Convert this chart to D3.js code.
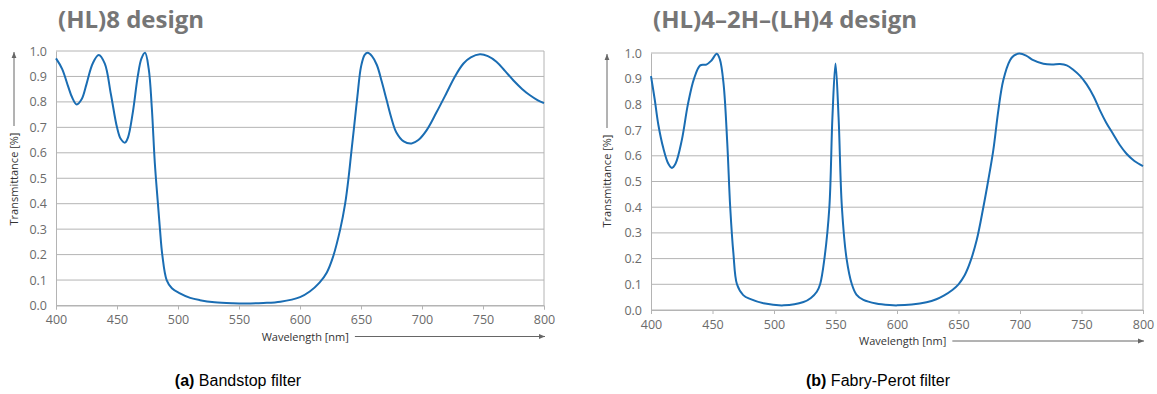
<!DOCTYPE html>
<html>
<head>
<meta charset="utf-8">
<script src="https://cdn.jsdelivr.net/npm/d3@7"></script>
<style>
  body { margin: 0; background: #fff; }
  svg { display: block; }
  .tick text { font-family: "Open Sans", sans-serif; font-size: 12.5px; fill: #6b6b6b; }
</style>
</head>
<body>
<svg width="1157" height="394"></svg>
<script>
// wavelengths [nm] and transmittance
const bandstopWl = [400, 405, 410, 413, 417, 421, 425, 430, 435, 440, 445, 450, 453, 456.5, 459, 463, 467, 470, 473, 476, 478.5, 481, 483.3, 485.2, 487.1, 490.7, 495, 501.6, 510, 518, 530, 545, 555, 570, 584, 600, 608, 616, 622, 627, 633, 637, 640, 642, 644.3, 647, 650, 653, 655.5, 659, 663, 667, 671, 675, 679, 685, 691.5, 697, 704, 712, 720, 727, 734, 740, 747.5, 754, 761, 768, 775, 782, 788.5, 795, 800];
const bandstopT = [0.971, 0.93, 0.86, 0.82, 0.79, 0.81, 0.87, 0.95, 0.984, 0.95, 0.83, 0.70, 0.655, 0.64, 0.66, 0.76, 0.90, 0.97, 0.993, 0.93, 0.78, 0.56, 0.415, 0.30, 0.20, 0.10, 0.068, 0.048, 0.03, 0.021, 0.013, 0.009, 0.008, 0.010, 0.015, 0.033, 0.055, 0.09, 0.13, 0.19, 0.30, 0.40, 0.51, 0.60, 0.70, 0.82, 0.938, 0.985, 0.993, 0.98, 0.945, 0.88, 0.807, 0.735, 0.68, 0.645, 0.637, 0.65, 0.69, 0.76, 0.834, 0.90, 0.951, 0.975, 0.987, 0.98, 0.958, 0.922, 0.884, 0.851, 0.826, 0.806, 0.795];

const fabryWl = [400, 403, 406, 410, 414, 417, 420, 425, 430, 435, 440, 445, 449, 453.5, 456, 459, 462, 464.4, 467, 469.9, 475, 481, 491.5, 508, 524, 530, 534.8, 537.5, 541, 545, 547.5, 550, 552.5, 555.2, 559, 563.3, 567, 572.7, 583, 594, 600, 612, 624, 632, 638, 645, 650, 655, 659.4, 664.8, 670.2, 674.2, 678.3, 682.4, 686.4, 691.9, 695, 699.5, 705, 710.8, 719, 726, 732.5, 738, 743.3, 749, 754.2, 760, 765, 770, 775.8, 781, 786.6, 793, 800];
const fabryT = [0.91, 0.82, 0.72, 0.63, 0.57, 0.553, 0.57, 0.66, 0.80, 0.90, 0.952, 0.955, 0.97, 0.997, 0.975, 0.88, 0.65, 0.40, 0.22, 0.10, 0.058, 0.042, 0.026, 0.018, 0.031, 0.047, 0.071, 0.10, 0.20, 0.40, 0.75, 0.959, 0.75, 0.40, 0.20, 0.10, 0.06, 0.039, 0.025, 0.019, 0.018, 0.021, 0.03, 0.042, 0.056, 0.078, 0.10, 0.135, 0.185, 0.272, 0.40, 0.505, 0.622, 0.777, 0.894, 0.972, 0.99, 0.998, 0.99, 0.972, 0.958, 0.955, 0.957, 0.952, 0.935, 0.91, 0.878, 0.83, 0.777, 0.73, 0.684, 0.643, 0.608, 0.58, 0.56];

const xTicks = [400, 450, 500, 550, 600, 650, 700, 750, 800];
const yTicks = [0, 0.1, 0.2, 0.3, 0.4, 0.5, 0.6, 0.7, 0.8, 0.9, 1.0];

const panels = [
  { title: "(HL)8 design", tag: "(a)", caption: " Bandstop filter", wl: bandstopWl, t: bandstopT,
    left: 56, right: 544, top: 51, bottom: 305.5, arrowX: 14, capX: 238 },
  { title: "(HL)4\u20132H\u2013(LH)4 design", tag: "(b)", caption: " Fabry-Perot filter", wl: fabryWl, t: fabryT,
    left: 651, right: 1143, top: 53, bottom: 310, arrowX: 607, capX: 878 }
];

const svg = d3.select("svg");
const defs = svg.append("defs");
defs.append("marker")
  .attr("id", "arr")
  .attr("viewBox", "0 0 10 10")
  .attr("refX", 10).attr("refY", 5)
  .attr("markerWidth", 6).attr("markerHeight", 6)
  .attr("orient", "auto")
  .append("path")
  .attr("d", "M0,1 L10,5 L0,9 z")
  .attr("fill", "#666");

panels.forEach((p) => {
  const x = d3.scaleLinear().domain([400, 800]).range([p.left, p.right]);
  const y = d3.scaleLinear().domain([0, 1]).range([p.bottom, p.top]);

  // title
  svg.append("text")
    .attr("x", p.left + 2).attr("y", 28)
    .attr("font-family", "Open Sans, sans-serif")
    .attr("font-weight", "bold")
    .attr("font-size", 24)
    .attr("fill", "#767676")
    .text(p.title);

  // horizontal grid
  svg.append("g")
    .selectAll("line")
    .data(yTicks)
    .join("line")
    .attr("x1", p.left).attr("x2", p.right)
    .attr("y1", (d) => y(d)).attr("y2", (d) => y(d))
    .attr("stroke", "#b4b4b4").attr("stroke-width", 1);

  // right edge
  svg.append("line")
    .attr("x1", p.right).attr("x2", p.right)
    .attr("y1", p.top).attr("y2", p.bottom)
    .attr("stroke", "#b4b4b4");

  // y axis
  const yAxis = svg.append("g")
    .attr("transform", `translate(${p.left},0)`)
    .call(d3.axisLeft(y).tickValues(yTicks).tickFormat(d3.format(".1f")).tickSize(0).tickPadding(9));
  yAxis.select(".domain").attr("stroke", "#b4b4b4");

  // x axis
  const xAxis = svg.append("g")
    .attr("transform", `translate(0,${p.bottom})`)
    .call(d3.axisBottom(x).tickValues(xTicks).tickSize(4).tickPadding(6));
  xAxis.select(".domain").attr("stroke", "#b4b4b4");
  xAxis.selectAll(".tick line").attr("stroke", "#b4b4b4");

  // curve
  svg.append("path")
    .datum(p.wl.map((w, i) => [w, p.t[i]]))
    .attr("fill", "none")
    .attr("stroke", "#1a6db3")
    .attr("stroke-width", 2)
    .attr("d", d3.line().x((d) => x(d[0])).y((d) => y(d[1])).curve(d3.curveCatmullRom.alpha(0.5)));

  // y label with arrow
  svg.append("line")
    .attr("x1", p.arrowX).attr("x2", p.arrowX)
    .attr("y1", p.top + 75).attr("y2", p.top + 1)
    .attr("stroke", "#666").attr("stroke-width", 1)
    .attr("marker-end", "url(#arr)");
  svg.append("text")
    .attr("transform", `translate(${p.arrowX + 4},${p.top + 128}) rotate(-90)`)
    .attr("text-anchor", "middle")
    .attr("font-family", "Open Sans, sans-serif")
    .attr("font-size", 11)
    .attr("fill", "#333")
    .text("Transmittance [%]");

  // x label with arrow
  const xlY = p.bottom + 31;
  const arrowStart = x(645);
  svg.append("text")
    .attr("x", arrowStart - 6).attr("y", xlY + 4)
    .attr("text-anchor", "end")
    .attr("font-family", "Open Sans, sans-serif")
    .attr("font-size", 11)
    .attr("fill", "#333")
    .text("Wavelength [nm]");
  svg.append("line")
    .attr("x1", arrowStart).attr("x2", p.right + 1)
    .attr("y1", xlY).attr("y2", xlY)
    .attr("stroke", "#666").attr("stroke-width", 1)
    .attr("marker-end", "url(#arr)");

  // caption
  const cap = svg.append("text")
    .attr("x", p.capX).attr("y", 386)
    .attr("text-anchor", "middle")
    .attr("font-family", "Liberation Sans, Arial, sans-serif")
    .attr("font-size", 16)
    .attr("fill", "#000");
  cap.append("tspan").attr("font-weight", "bold").text(p.tag);
  cap.append("tspan").text(p.caption);
});
</script>
</body>
</html>
